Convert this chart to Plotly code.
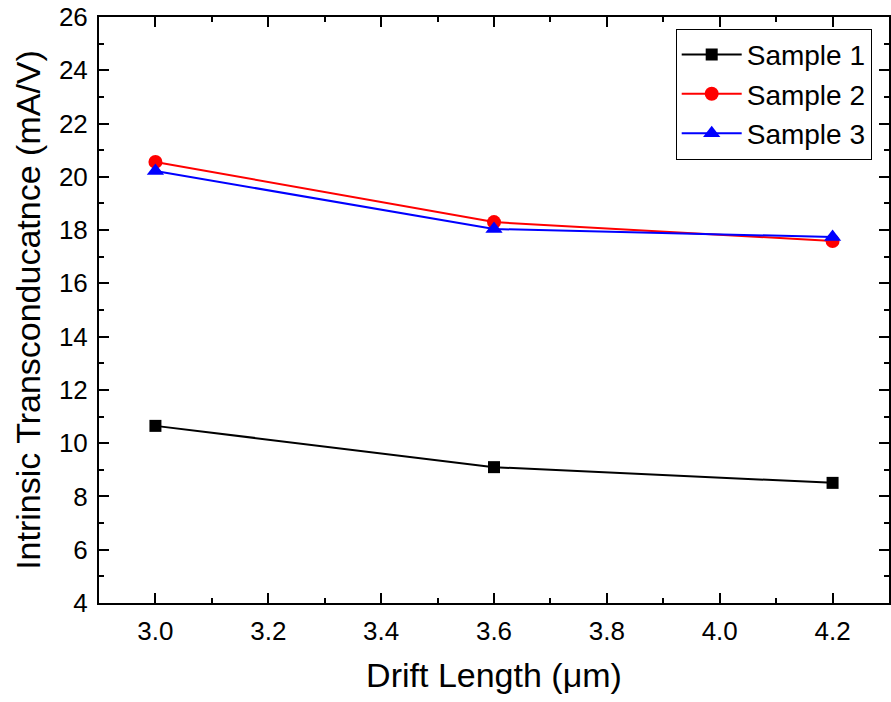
import plotly.graph_objects as go

drift_length = [3.0, 3.6, 4.2]
sample1 = [10.65, 9.10, 8.51]
sample2 = [20.56, 18.30, 17.59]
sample3 = [20.22, 18.04, 17.74]

names = ["Sample 1", "Sample 2", "Sample 3"]
colors = ["black", "red", "blue"]
symbols = ["square", "circle", "triangle-up"]
sizes = [12, 14, 15]

FONT = "Liberation Sans, Arial, sans-serif"

fig = go.Figure()
for name, ys, c, s, sz in zip(names, [sample1, sample2, sample3], colors, symbols, sizes):
    fig.add_trace(go.Scatter(
        x=drift_length, y=ys, name=name, mode="lines+markers",
        line=dict(color=c, width=2),
        marker=dict(symbol=s, size=sz, color=c, line=dict(width=0)),
    ))

axis_common = dict(
    showline=True, linecolor="black", linewidth=2, mirror="ticks",
    ticks="inside", ticklen=10, tickwidth=2, tickcolor="black",
    showgrid=False, zeroline=False,
    tickfont=dict(family=FONT, size=26, color="black"),
)

fig.update_layout(
    width=891, height=702,
    margin=dict(l=99, r=0, t=17, b=99),
    paper_bgcolor="white", plot_bgcolor="white",
    font=dict(family=FONT, color="black"),
    xaxis=dict(
        range=[2.9, 4.3], dtick=0.2, tick0=3.0, tickformat=".1f",
        minor=dict(dtick=0.1, ticks="inside", ticklen=5, tickwidth=2, tickcolor="black"),
        title=dict(text="Drift Length (μm)", font=dict(family=FONT, size=34, color="black"), standoff=18),
        ticklabelstandoff=4,
        **axis_common,
    ),
    yaxis=dict(
        range=[4, 26], dtick=2, tick0=4,
        minor=dict(dtick=1, ticks="inside", ticklen=5, tickwidth=2, tickcolor="black"),
        title=dict(text="Intrinsic Transconducatnce (mA/V)", font=dict(family=FONT, size=34, color="black"), standoff=8),
        ticklabelstandoff=4,
        **axis_common,
    ),
    legend=dict(
        x=0.73, y=0.98, xanchor="left", yanchor="top",
        bgcolor="white", bordercolor="black", borderwidth=1,
        font=dict(family=FONT, size=28, color="black"),
        tracegroupgap=0, itemsizing="trace", itemwidth=60,
    ),
    showlegend=True,
)

fig.write_html("out.html")
